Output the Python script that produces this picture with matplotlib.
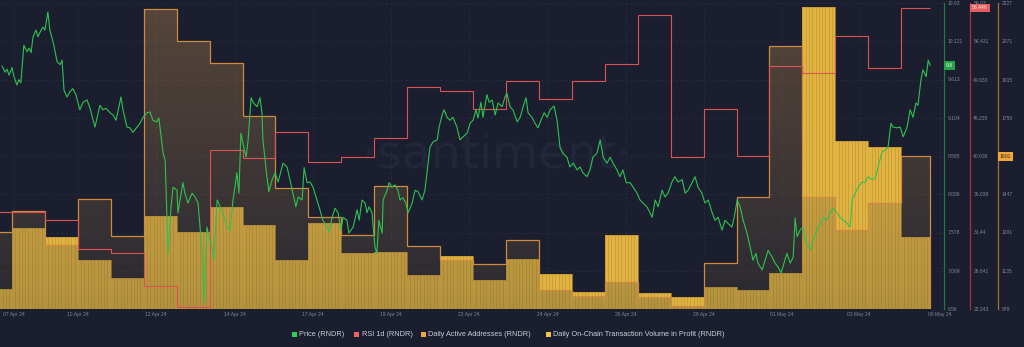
import numpy as np
import matplotlib as mpl
import matplotlib.pyplot as plt
from matplotlib.patches import Rectangle

mpl.rcParams['font.family'] = ['Liberation Sans', 'DejaVu Sans']

BG = '#1b1e2f'
GREEN = '#2ec24f'
RED = '#dd5252'
ORANGE = '#d08a3e'
GOLD = '#e1b441'

# daily steps: day index -1 .. 27 (last one still running)
step_edges = list(range(-1, 28)) + [27.88]

rsi = [33.90, 33.90, 32.94, 29.46, 28.97, 25.01, 22.48, 41.36, 40.40, 43.52,
       39.91, 40.52, 42.80, 48.93, 48.45, 46.29, 49.65, 47.49, 49.65, 51.70,
       57.59, 40.52, 46.29, 40.64, 51.46, 50.61, 55.06, 51.21, 58.446]

active_addr = [1293, 1379, 1240, 1428, 1277, 2203, 2072, 1982, 1766, 1473,
               1354, 1281, 1481, 1236, 1179, 1163, 1261, 1057, 1032, 1089,
               1028, 991, 1167, 1436, 2052, 1436, 1301, 1411, 1601]

vol_profit = [1.96, 7.94, 7.06, 4.80, 3.04, 9.11, 7.55, 10.0, 8.23, 4.80,
              8.43, 5.49, 5.59, 3.33, 5.19, 2.84, 4.90, 3.43, 1.67, 7.25,
              1.57, 1.18, 2.16, 1.86, 3.53, 29.6, 16.46, 15.88, 7.06]

# (day, price usd)
price_points = [
    (-0.30, 9.79), (-0.21, 9.71), (-0.15, 9.75), (-0.09, 9.67), (0.00, 9.77), (0.06, 9.65),
    (0.15, 9.54), (0.21, 9.61), (0.27, 9.57), (0.36, 10.07), (0.46, 9.98), (0.52, 10.03),
    (0.58, 9.97), (0.64, 10.18), (0.73, 10.27), (0.79, 10.18), (0.85, 10.24), (0.94, 10.31),
    (1.00, 10.27), (1.09, 10.51), (1.15, 10.27), (1.25, 10.11), (1.37, 9.85), (1.46, 9.81),
    (1.52, 9.87), (1.58, 9.47), (1.67, 9.38), (1.76, 9.45), (1.85, 9.49), (1.94, 9.41),
    (2.06, 9.21), (2.16, 9.31), (2.28, 9.34), (2.37, 9.23), (2.52, 8.98), (2.67, 9.27),
    (2.76, 9.21), (2.85, 9.23), (2.98, 9.17), (3.07, 9.14), (3.16, 9.07), (3.31, 9.38),
    (3.37, 9.21), (3.49, 8.98), (3.58, 8.97), (3.67, 8.91), (3.80, 8.98), (3.89, 9.03),
    (3.98, 9.11), (4.10, 9.17), (4.19, 9.18), (4.28, 9.07), (4.40, 9.05), (4.46, 9.10),
    (4.59, 8.63), (4.65, 8.54), (4.74, 7.30), (4.83, 7.92), (4.89, 8.18), (5.01, 8.14),
    (5.04, 7.84), (5.19, 8.24), (5.25, 8.10), (5.34, 7.97), (5.47, 8.10), (5.56, 8.05),
    (5.65, 7.97), (5.71, 7.65), (5.77, 7.30), (5.83, 6.64), (5.92, 7.65), (5.98, 7.52),
    (6.07, 7.39), (6.13, 7.21), (6.23, 8.01), (6.32, 7.92), (6.44, 7.78), (6.53, 7.65),
    (6.62, 7.61), (6.71, 8.01), (6.77, 8.18), (6.83, 8.37), (6.89, 8.10), (6.95, 8.90),
    (7.01, 8.77), (7.11, 8.58), (7.17, 8.81), (7.26, 9.37), (7.32, 9.31), (7.44, 9.25),
    (7.53, 9.37), (7.59, 9.17), (7.62, 8.81), (7.74, 8.32), (7.80, 8.12), (7.90, 8.28),
    (7.99, 8.37), (8.08, 8.25), (8.23, 8.50), (8.35, 8.45), (8.44, 8.28), (8.53, 8.10),
    (8.62, 7.92), (8.69, 8.05), (8.81, 8.01), (8.87, 8.44), (8.96, 8.24), (9.05, 8.25),
    (9.14, 8.18), (9.26, 8.01), (9.35, 7.88), (9.44, 7.74), (9.57, 7.65), (9.63, 7.58),
    (9.72, 7.78), (9.81, 7.90), (9.90, 7.84), (9.99, 7.61), (10.05, 7.78), (10.17, 7.74),
    (10.23, 7.57), (10.36, 7.65), (10.48, 7.88), (10.54, 7.74), (10.63, 8.01), (10.72, 7.97),
    (10.78, 7.84), (10.84, 7.92), (10.93, 7.84), (11.02, 7.39), (11.08, 7.30), (11.14, 7.74),
    (11.24, 7.57), (11.27, 8.01), (11.39, 8.14), (11.45, 8.24), (11.54, 8.18), (11.63, 8.21),
    (11.72, 8.14), (11.78, 8.01), (11.87, 8.04), (11.96, 7.97), (12.03, 7.84), (12.15, 7.97),
    (12.24, 8.14), (12.33, 8.12), (12.45, 8.01), (12.54, 8.14), (12.60, 8.37), (12.69, 8.71),
    (12.78, 8.78), (12.91, 8.81), (12.97, 8.98), (13.06, 9.14), (13.12, 9.21), (13.21, 9.11),
    (13.30, 9.07), (13.39, 9.11), (13.51, 8.98), (13.60, 8.81), (13.70, 8.85), (13.82, 8.90),
    (13.91, 9.03), (14.00, 9.07), (14.09, 9.21), (14.15, 9.10), (14.24, 9.31), (14.30, 9.11),
    (14.42, 9.41), (14.49, 9.31), (14.58, 9.34), (14.67, 9.14), (14.76, 9.30), (14.88, 9.25),
    (14.97, 9.38), (15.03, 9.43), (15.12, 9.25), (15.21, 9.21), (15.34, 9.05), (15.43, 9.11),
    (15.52, 9.25), (15.61, 9.37), (15.67, 9.17), (15.79, 9.11), (15.88, 9.03), (15.97, 8.97),
    (16.09, 9.10), (16.16, 9.17), (16.25, 9.11), (16.34, 9.21), (16.46, 9.26), (16.55, 9.07),
    (16.64, 8.71), (16.73, 8.63), (16.85, 8.58), (16.94, 8.45), (17.04, 8.50), (17.16, 8.41),
    (17.25, 8.45), (17.34, 8.37), (17.46, 8.32), (17.55, 8.41), (17.64, 8.58), (17.76, 8.63),
    (17.86, 8.81), (17.95, 8.58), (18.07, 8.50), (18.16, 8.58), (18.25, 8.50), (18.37, 8.41),
    (18.46, 8.32), (18.55, 8.41), (18.65, 8.24), (18.77, 8.24), (18.86, 8.18), (18.98, 8.10),
    (19.07, 8.01), (19.16, 7.97), (19.28, 7.92), (19.37, 7.84), (19.44, 7.78), (19.53, 8.01),
    (19.62, 7.92), (19.74, 8.14), (19.83, 8.05), (19.92, 8.10), (20.04, 8.25), (20.13, 8.32),
    (20.22, 8.25), (20.35, 8.28), (20.44, 8.10), (20.53, 8.14), (20.65, 8.24), (20.74, 8.32),
    (20.83, 8.18), (20.95, 8.10), (21.04, 7.97), (21.14, 8.01), (21.26, 7.84), (21.35, 7.74),
    (21.44, 7.78), (21.56, 7.61), (21.65, 7.74), (21.74, 7.70), (21.86, 7.65), (21.93, 7.78),
    (22.02, 8.01), (22.11, 7.92), (22.20, 7.74), (22.32, 7.57), (22.41, 7.39), (22.50, 7.21),
    (22.59, 7.30), (22.65, 7.17), (22.78, 7.08), (22.87, 7.21), (22.96, 7.34), (23.08, 7.25),
    (23.17, 7.17), (23.26, 7.12), (23.35, 7.04), (23.41, 7.12), (23.53, 7.30), (23.63, 7.17),
    (23.72, 7.25), (23.78, 7.77), (23.84, 7.52), (23.93, 7.61), (24.02, 7.65), (24.08, 7.48),
    (24.17, 7.39), (24.26, 7.35), (24.32, 7.48), (24.45, 7.61), (24.54, 7.70), (24.63, 7.78),
    (24.75, 7.74), (24.84, 7.84), (24.93, 7.90), (25.05, 7.84), (25.14, 7.78), (25.24, 7.74),
    (25.36, 7.70), (25.45, 7.65), (25.51, 8.01), (25.60, 8.10), (25.69, 8.18), (25.81, 8.25),
    (25.90, 8.24), (25.99, 8.32), (26.12, 8.28), (26.21, 8.30), (26.30, 8.45), (26.42, 8.65),
    (26.51, 8.67), (26.60, 8.71), (26.69, 9.03), (26.75, 8.98), (26.87, 8.97), (26.97, 8.98),
    (27.06, 8.85), (27.18, 8.98), (27.27, 9.21), (27.36, 9.11), (27.45, 9.30), (27.51, 9.27),
    (27.60, 9.61), (27.66, 9.74), (27.76, 9.65), (27.82, 9.87), (27.88, 9.80),
]
price_time = [p[0] for p in price_points]
price_usd = [p[1] for p in price_points]

date_ticks = [0.06, 2.00, 4.37, 6.77, 9.14, 11.51, 13.88, 16.28, 18.65, 21.01, 23.38, 25.72, 28.18]
date_labels = ['07 Apr 24', '10 Apr 24', '12 Apr 24', '14 Apr 24', '17 Apr 24', '19 Apr 24',
               '22 Apr 24', '24 Apr 24', '26 Apr 24', '29 Apr 24', '01 May 24', '03 May 24',
               '06 May 24']

price_ticks = [6.56, 7.069, 7.578, 8.086, 8.595, 9.104, 9.613, 10.121, 10.63]
rsi_ticks = [22.243, 26.841, 31.44, 36.038, 40.636, 45.235, 49.833, 54.431, 59.03]
daa_ticks = [979, 1135, 1291, 1447, 1603, 1759, 1915, 2071, 2227]

xlo, xhi = -0.364, 28.30

# ---------------------------------------------------------------
W, H = 1024, 347
fig = plt.figure(figsize=(W / 100, H / 100), dpi=100, facecolor=BG)
ax_vol = fig.add_axes([0, 38 / H, 944 / W, 306 / H])
ax_vol.set_facecolor(BG)
ax_daa = ax_vol.twinx()
ax_rsi = ax_vol.twinx()
ax_price = ax_vol.twinx()

for a in (ax_vol, ax_daa, ax_rsi, ax_price):
    for s in a.spines.values():
        s.set_visible(False)
    a.set_xlim(xlo, xhi)

# grid + watermark
ax_vol.set_ylim(0, 30)
ax_vol.set_yticks(np.linspace(0, 30, 9))
ax_vol.tick_params(axis='y', length=0, labelleft=False)
ax_vol.grid(True, color='#282c3f', lw=0.6, ls=(0, (3, 3)))
ax_vol.set_axisbelow(True)
ax_vol.text(0.5254, 0.461, '\u00b7santiment\u00b7', transform=ax_vol.transAxes,
            ha='center', va='baseline', fontsize=34, color='#22263a',
            family='DejaVu Sans', zorder=0.5)

# gold volume bars, with faint hourly stripes
left_edges = [max(e, xlo) for e in step_edges[:-1]]
widths = [b - a for a, b in zip(left_edges, step_edges[1:])]
ax_vol.bar(left_edges, vol_profit, width=widths, align='edge', color=GOLD, lw=0, zorder=2)
for a, w, v in zip(left_edges, widths, vol_profit):
    n = max(1, int(round(w * 10)))
    xs = a + (w / n) * np.arange(1, n)
    ax_vol.vlines(xs, 0, v, color='#9c7a2a', lw=0.45, alpha=0.55, zorder=2.1)
ax_vol.stairs(vol_profit, [left_edges[0]] + step_edges[1:], baseline=None,
              color='#c0942f', lw=0.5, zorder=2.2)

ax_vol.set_xticks(date_ticks, date_labels)
ax_vol.tick_params(axis='x', length=0, pad=2.5, labelsize=3.6, labelcolor='#80859a')

# daily active addresses: gradient area + outline
ax_daa.set_ylim(daa_ticks[0], daa_ticks[-1])
t = np.linspace(0, 1, 256)[:, None, None]
top_c = np.array([227, 163, 83]) / 255
bot_c = np.array([78, 70, 57]) / 255
grad = np.zeros((256, 1, 4))
grad[..., :3] = top_c * (1 - t) + bot_c * t
grad[..., 3] = 0.30
img = ax_daa.imshow(grad, extent=[xlo, xhi, daa_ticks[0], daa_ticks[-1]],
                    aspect='auto', origin='upper', interpolation='bilinear', zorder=1)
clip = ax_daa.stairs(active_addr, step_edges, baseline=daa_ticks[0], fill=True,
                     facecolor='none', edgecolor='none')
img.set_clip_path(clip)
ax_daa.stairs(active_addr, step_edges, baseline=daa_ticks[0], color=ORANGE, lw=0.9, zorder=3)
ax_daa.set_xlim(xlo, xhi)
ax_daa.set_ylim(daa_ticks[0], daa_ticks[-1])

# RSI
ax_rsi.stairs(rsi, step_edges, baseline=None, color=RED, lw=0.8, zorder=3)
ax_rsi.set_ylim(rsi_ticks[0], rsi_ticks[-1])

# price
ax_price.plot(price_time, price_usd, color=GREEN, lw=0.8, zorder=4)
ax_price.set_ylim(price_ticks[0], price_ticks[-1])

# right hand axes
axis_cfg = [(ax_price, 1.0, '#237a3b', price_ticks, ['6.56', '7.069', '7.578', '8.086', '8.595',
                                                     '9.104', '9.613', '10.121', '10.63']),
            (ax_rsi, 970 / 944, '#9a3a3c', rsi_ticks, ['22.243', '26.841', '31.44', '36.038',
                                                      '40.636', '45.235', '49.833', '54.431', '59.03']),
            (ax_daa, 998 / 944, '#a56f33', daa_ticks, [str(v) for v in daa_ticks])]
for a, pos, col, ticks, labels in axis_cfg:
    a.spines['right'].set_visible(True)
    a.spines['right'].set_position(('axes', pos))
    a.spines['right'].set_color(col)
    a.spines['right'].set_linewidth(0.9)
    a.set_yticks(ticks, labels)
    a.tick_params(axis='y', length=0, pad=2.4, labelsize=3.6, labelcolor='#80859a')
    a.tick_params(axis='x', bottom=False, labelbottom=False)

# value badges
def badge(a, pos, val, text, fc, tc):
    a.text(pos + 2.0 / 944, val, text, transform=a.get_yaxis_transform(), ha='left',
           va='center', fontsize=3.7, color=tc, zorder=10, clip_on=False,
           bbox=dict(boxstyle='square,pad=0.35', fc=fc, ec='none'))

badge(ax_price, 1.0, price_usd[-1], f'{price_usd[-1]:g}', '#22a447', '#eafbe9')
badge(ax_rsi, 970 / 944, rsi[-1], f'{rsi[-1]}', '#e35d5d', '#fbe3e3')
badge(ax_daa, 998 / 944, active_addr[-1], str(active_addr[-1]), '#f0a83c', '#2a2418')

# legend
legend_items = [('Price (RNDR)', '#2fd157', 292, 299),
                ('RSI 1d (RNDR)', '#f26262', 354, 362),
                ('Daily Active Addresses (RNDR)', '#f4a443', 421, 428),
                ('Daily On-Chain Transaction Volume in Profit (RNDR)', '#f2c444', 546, 553)]
ly = 334
for label, col, sx, tx in legend_items:
    fig.add_artist(Rectangle((sx / W, (H - ly - 2.5) / H), 5 / W, 5 / H,
                             transform=fig.transFigure, fc=col, ec='none'))
    fig.text(tx / W, (H - ly) / H, label, fontsize=5.3, color='#c9ccd6',
             ha='left', va='center')

fig.savefig('out.png', dpi=100, facecolor=BG)
